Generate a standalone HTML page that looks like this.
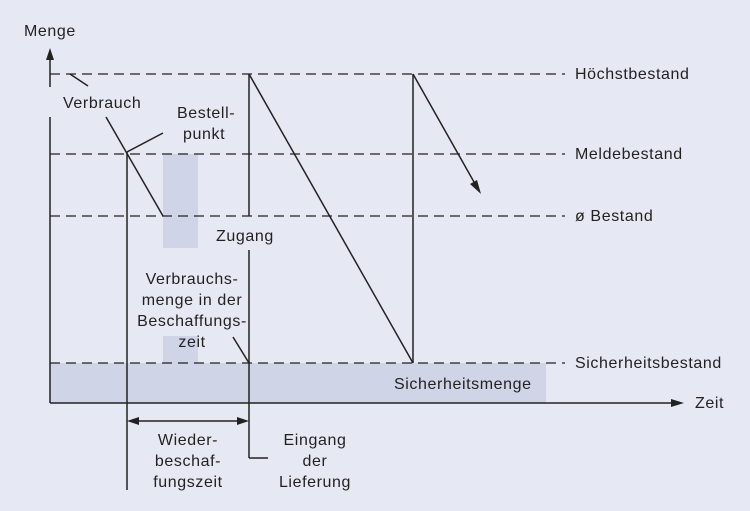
<!DOCTYPE html>
<html><head><meta charset="utf-8"><style>
body{margin:0;background:#e6e9f3;}
svg{display:block;font-family:"Liberation Sans",sans-serif;font-size:16px;letter-spacing:0.6px;fill:#222;}
</style></head><body>
<svg width="750" height="511" viewBox="0 0 750 511" xmlns="http://www.w3.org/2000/svg">
<rect width="750" height="511" fill="#e6e9f3"/>
<rect x="50" y="363" width="496" height="40" fill="#cfd5e6"/>
<rect x="163" y="154" width="35" height="94" fill="#cfd5e6"/>
<rect x="163" y="336" width="35" height="27" fill="#cfd5e6"/>
<g stroke="#222" stroke-width="1.3" stroke-dasharray="10,6" fill="none">
<line x1="50" y1="74" x2="565" y2="74"/>
<line x1="50" y1="154" x2="565" y2="154"/>
<line x1="50" y1="216" x2="565" y2="216"/>
<line x1="50" y1="363" x2="565" y2="363"/>
</g>
<g stroke="#222" stroke-width="1.5" fill="none">
<line x1="50" y1="58" x2="50" y2="87"/>
<line x1="50" y1="117" x2="50" y2="403"/>
<line x1="50" y1="403" x2="672" y2="403"/>
<line x1="70" y1="74" x2="88" y2="86"/>
<line x1="106" y1="117" x2="163" y2="216"/>
<line x1="127" y1="152" x2="127" y2="490"/>
<line x1="127" y1="152" x2="163" y2="133"/>
<line x1="249" y1="74" x2="249" y2="216"/>
<line x1="249" y1="250" x2="249" y2="458"/>
<line x1="249" y1="458" x2="268" y2="458"/>
<line x1="249" y1="74" x2="413" y2="363"/>
<line x1="413" y1="74" x2="413" y2="363"/>
<line x1="413" y1="74" x2="474" y2="182"/>
<line x1="233" y1="337" x2="249" y2="363"/>
<line x1="137" y1="421" x2="239" y2="421"/>
</g>
<g fill="#222">
<polygon points="50,48 46,60 54,60"/>
<polygon points="684,403 671,399 671,407"/>
<polygon points="481,194 470,184 477,180"/>
<polygon points="127,421 139,417 139,425"/>
<polygon points="249,421 237,417 237,425"/>
</g>
<text x="24" y="36">Menge</text>
<text x="63" y="108">Verbrauch</text>
<text x="177" y="118">Bestell-</text>
<text x="183" y="139">punkt</text>
<text x="216" y="241">Zugang</text>
<g text-anchor="middle">
<text x="192" y="284">Verbrauchs-</text>
<text x="192" y="305">menge in der</text>
<text x="192" y="326">Beschaffungs-</text>
<text x="192" y="347">zeit</text>
<text x="188" y="445">Wieder-</text>
<text x="188" y="466">beschaf-</text>
<text x="188" y="487">fungszeit</text>
<text x="315" y="445">Eingang</text>
<text x="315" y="466">der</text>
<text x="315" y="487">Lieferung</text>
</g>
<text x="575" y="79">Höchstbestand</text>
<text x="575" y="159">Meldebestand</text>
<text x="575" y="221">ø Bestand</text>
<text x="575" y="368">Sicherheitsbestand</text>
<text x="394" y="389">Sicherheitsmenge</text>
<text x="695" y="408">Zeit</text>
</svg>
</body></html>
